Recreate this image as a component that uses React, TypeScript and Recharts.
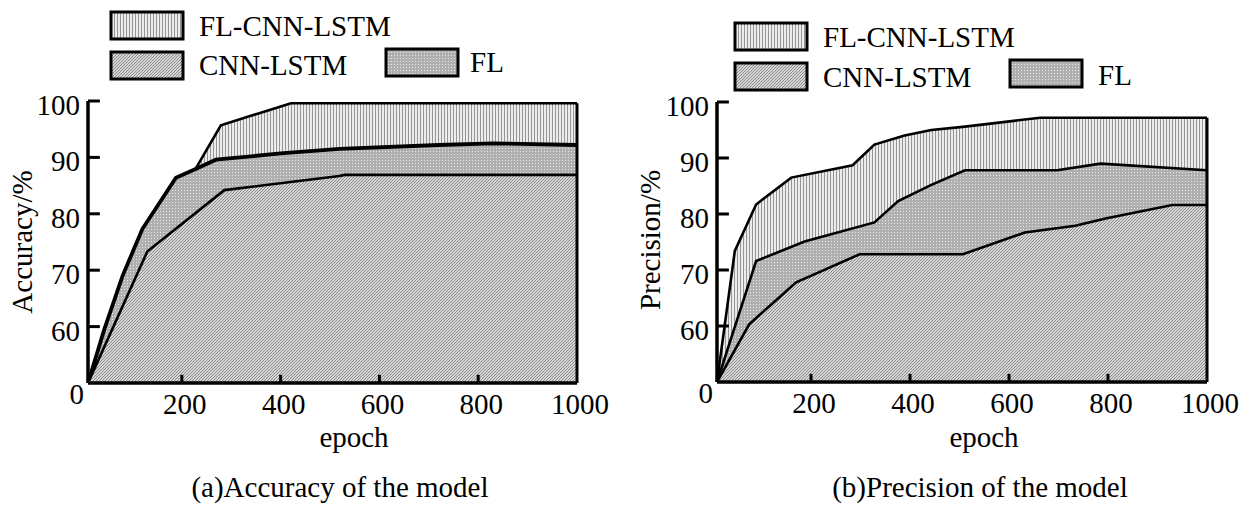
import React from 'react';
import { AreaChart, Area, XAxis, YAxis, ReferenceLine } from 'recharts';

// ---------- data ----------
const xTicks = [200, 400, 600, 800, 1000];
const yTicks = [50, 60, 70, 80, 90, 100]; // 50 on the axis stands for the broken "0"
const seriesNames = ['FL-CNN-LSTM', 'CNN-LSTM', 'FL'];
const X_MIN = 10;
const Y_MIN = 50;

// (a) Accuracy of the model
const accEpochFLCNNLSTM = [10, 120, 188, 226, 279, 421, 1000];
const accFLCNNLSTM = [0, 76.5, 85.8, 87.7, 95.7, 99.6, 99.6];
const accEpochFL = [10, 43, 80, 120, 188, 229, 269, 400, 519, 720, 830, 1000];
const accFL = [0, 57, 69, 77.3, 86.4, 88.0, 89.6, 90.7, 91.5, 92.2, 92.5, 92.2];
const accEpochCNNLSTM = [10, 130, 286, 519, 530, 1000];
const accCNNLSTM = [0, 73.3, 84.2, 86.7, 86.9, 86.9];

// (b) Precision of the model
const preEpochFLCNNLSTM = [10, 46, 89, 160, 284, 328, 389, 443, 511, 663, 1000];
const preFLCNNLSTM = [0, 73.4, 81.7, 86.5, 88.7, 92.4, 94.0, 95.0, 95.6, 97.2, 97.2];
const preEpochFL = [10, 89, 187, 328, 376, 443, 511, 697, 785, 1000];
const preFL = [0, 71.6, 75.1, 78.5, 82.3, 85.2, 87.8, 87.8, 89.0, 87.8];
const preEpochCNNLSTM = [10, 75, 170, 298, 507, 632, 734, 795, 930, 1000];
const preCNNLSTM = [0, 60.3, 67.8, 72.8, 72.8, 76.7, 77.9, 79.2, 81.6, 81.6];

// axis break: 0..60 is squeezed into one 10-unit step
const toAxis = (v: number) => (v < 60 ? 50 + v / 6 : v);
const rows = (epochs: number[], values: number[]) =>
  epochs.map((e, i) => ({ epoch: e, v: toAxis(values[i]) }));

const FONT = "'Liberation Serif', 'Times New Roman', serif";
const FS = 29;

const Patterns = ({ p }: { p: string }) => (
  <defs>
    <pattern id={`${p}-vert`} patternUnits="userSpaceOnUse" width={3} height={3}>
      <rect width={3} height={3} fill="#ececec" shapeRendering="crispEdges" />
      <rect x={0} width={1} height={3} fill="#969696" shapeRendering="crispEdges" />
    </pattern>
    <pattern id={`${p}-mesh`} patternUnits="userSpaceOnUse" width={3} height={3}>
      <rect width={3} height={3} fill="#b0b0b0" shapeRendering="crispEdges" />
      <rect x={1} y={1} width={1} height={1} fill="#e8e8e8" shapeRendering="crispEdges" />
    </pattern>
    <pattern id={`${p}-diag`} patternUnits="userSpaceOnUse" width={3} height={3}>
      <rect width={3} height={3} fill="#d6d6d6" shapeRendering="crispEdges" />
      <rect x={0} y={2} width={1} height={1} fill="#8a8a8a" shapeRendering="crispEdges" />
      <rect x={1} y={1} width={1} height={1} fill="#8a8a8a" shapeRendering="crispEdges" />
      <rect x={2} y={0} width={1} height={1} fill="#8a8a8a" shapeRendering="crispEdges" />
    </pattern>
  </defs>
);

// text of y ticks; x arrives 8px left of the axis line
const YTick = (props: any) => {
  const { x, y, payload } = props;
  const isZero = payload.value === 50;
  return (
    <text
      x={isZero ? x + 4 : x}
      y={y + (isZero ? 21 : 14)}
      textAnchor="end"
      fontFamily={FONT}
      fontSize={FS}
      fill="#000"
    >
      {isZero ? '0' : String(payload.value)}
    </text>
  );
};

// text of x ticks; y arrives at the axis line
const XTick = (props: any) => {
  const { x, y, payload } = props;
  return (
    <text x={x + 3} y={y + 31} textAnchor="middle" fontFamily={FONT} fontSize={FS} fill="#000">
      {String(payload.value)}
    </text>
  );
};

type PanelProps = {
  id: string;
  left: number;
  margin: { top: number; right: number; bottom: number; left: number };
  top: [number[], number[]];
  mid: [number[], number[]];
  bottom: [number[], number[]];
  midWidth: number;
};

const Panel = ({ id, left, margin, top, mid, bottom, midWidth }: PanelProps) => {
  const topVal = toAxis(top[1][top[1].length - 1]);
  const axes = (show: boolean) => [
    <XAxis
      key="x"
      type="number"
      dataKey="epoch"
      domain={[X_MIN, 1000]}
      ticks={xTicks}
      height={1}
      tickSize={-8}
      tickMargin={8}
      tickLine={false}
      tick={show ? <XTick /> : false}
      axisLine={show ? { stroke: '#000', strokeWidth: 3 } : false}
      allowDataOverflow
    />,
    <YAxis
      key="y"
      type="number"
      domain={[Y_MIN, 100]}
      ticks={yTicks}
      width={1}
      tickSize={-12}
      tickMargin={20}
      tickLine={false}
      tick={show ? <YTick /> : false}
      axisLine={show ? { stroke: '#000', strokeWidth: 3 } : false}
      allowDataOverflow
    />,
  ];
  const bottomRows = rows(bottom[0], bottom[1]);
  return (
    <>
      <div style={{ position: 'absolute', left, top: 0 }}>
        <AreaChart width={620} height={505} margin={margin}>
          <Patterns p={id} />
          {axes(true)}
          <Area
            data={rows(top[0], top[1])}
            dataKey="v"
            type="linear"
            stroke="#000"
            strokeWidth={2.6}
            fill={`url(#${id}-vert)`}
            fillOpacity={1}
            dot={false}
            activeDot={false}
            isAnimationActive={false}
          />
          <Area
            data={rows(mid[0], mid[1])}
            dataKey="v"
            type="linear"
            stroke="#000"
            strokeWidth={midWidth}
            fill={`url(#${id}-mesh)`}
            fillOpacity={1}
            dot={false}
            activeDot={false}
            isAnimationActive={false}
          />
          <Area
            data={bottomRows}
            dataKey="v"
            type="linear"
            stroke="#000"
            strokeWidth={2.6}
            fill={`url(#${id}-diag)`}
            fillOpacity={1}
            dot={false}
            activeDot={false}
            isAnimationActive={false}
          />
        </AreaChart>
      </div>
      {/* overlay with the same scales: inward tick marks, axis lines and the right edge */}
      <div style={{ position: 'absolute', left, top: 0, pointerEvents: 'none' }}>
        <AreaChart width={620} height={505} margin={margin} data={bottomRows}>
          {axes(false)}
          {yTicks
            .filter((t) => t !== Y_MIN)
            .map((t) => (
              <ReferenceLine
                key={`y${t}`}
                segment={[
                  { x: X_MIN, y: t },
                  { x: X_MIN + 24, y: t },
                ]}
                stroke="#000"
                strokeWidth={3}
                ifOverflow="visible"
              />
            ))}
          {xTicks
            .filter((t) => t !== 1000)
            .map((t) => (
              <ReferenceLine
                key={`x${t}`}
                segment={[
                  { x: t, y: Y_MIN },
                  { x: t, y: Y_MIN + 1.45 },
                ]}
                stroke="#000"
                strokeWidth={3}
                ifOverflow="visible"
              />
            ))}
          <ReferenceLine
            segment={[
              { x: 1000, y: Y_MIN },
              { x: 1000, y: topVal },
            ]}
            stroke="#000"
            strokeWidth={3}
            ifOverflow="visible"
          />
          <ReferenceLine y={Y_MIN} stroke="#000" strokeWidth={3} ifOverflow="visible" />
          <ReferenceLine x={X_MIN} stroke="#000" strokeWidth={3} ifOverflow="visible" />
        </AreaChart>
      </div>
    </>
  );
};

const Swatch = ({ x, y, fill }: { x: number; y: number; fill: string }) => (
  <rect x={x} y={y} width={72} height={27} fill={fill} stroke="#000" strokeWidth={3} />
);

const Txt = ({ x, y, children, anchor = 'start', rotate = false }: any) => (
  <text
    x={x}
    y={y}
    textAnchor={anchor}
    fontFamily={FONT}
    fontSize={FS}
    fill="#000"
    transform={rotate ? `rotate(-90 ${x} ${y})` : undefined}
    dominantBaseline={rotate ? 'central' : undefined}
  >
    {children}
  </text>
);

export default function App() {
  return (
    <div style={{ position: 'absolute', left: 0, top: 0, width: 1239, height: 505, background: '#fff', overflow: 'hidden' }}>
      <Panel
        id="pa"
        left={0}
        margin={{ top: 101, right: 43, bottom: 121, left: 87 }}
        top={[accEpochFLCNNLSTM, accFLCNNLSTM]}
        mid={[accEpochFL, accFL]}
        bottom={[accEpochCNNLSTM, accCNNLSTM]}
        midWidth={3.8}
      />
      <Panel
        id="pb"
        left={620}
        margin={{ top: 102, right: 33, bottom: 122, left: 96 }}
        top={[preEpochFLCNNLSTM, preFLCNNLSTM]}
        mid={[preEpochFL, preFL]}
        bottom={[preEpochCNNLSTM, preCNNLSTM]}
        midWidth={2.6}
      />
      <svg width={1239} height={505} style={{ position: 'absolute', left: 0, top: 0, pointerEvents: 'none' }}>
        <Patterns p="lg" />
        {/* legend (a) */}
        <Swatch x={111} y={12} fill="url(#lg-vert)" />
        <Txt x={199} y={36}>{seriesNames[0]}</Txt>
        <Swatch x={111} y={52} fill="url(#lg-diag)" />
        <Txt x={199} y={75}>{seriesNames[1]}</Txt>
        <Swatch x={386} y={49} fill="url(#lg-mesh)" />
        <Txt x={470} y={72}>{seriesNames[2]}</Txt>
        {/* legend (b) */}
        <Swatch x={735} y={23} fill="url(#lg-vert)" />
        <Txt x={823} y={47}>{seriesNames[0]}</Txt>
        <Swatch x={735} y={63} fill="url(#lg-diag)" />
        <Txt x={823} y={87}>{seriesNames[1]}</Txt>
        <Swatch x={1010} y={60} fill="url(#lg-mesh)" />
        <Txt x={1098} y={85}>{seriesNames[2]}</Txt>
        {/* axis titles */}
        <Txt x={22} y={242} anchor="middle" rotate>Accuracy/%</Txt>
        <Txt x={650} y={240} anchor="middle" rotate>Precision/%</Txt>
        <Txt x={354} y={447} anchor="middle">epoch</Txt>
        <Txt x={984} y={447} anchor="middle">epoch</Txt>
        {/* captions */}
        <Txt x={340} y={497} anchor="middle">(a)Accuracy of the model</Txt>
        <Txt x={980} y={497} anchor="middle">(b)Precision of the model</Txt>
      </svg>
    </div>
  );
}
